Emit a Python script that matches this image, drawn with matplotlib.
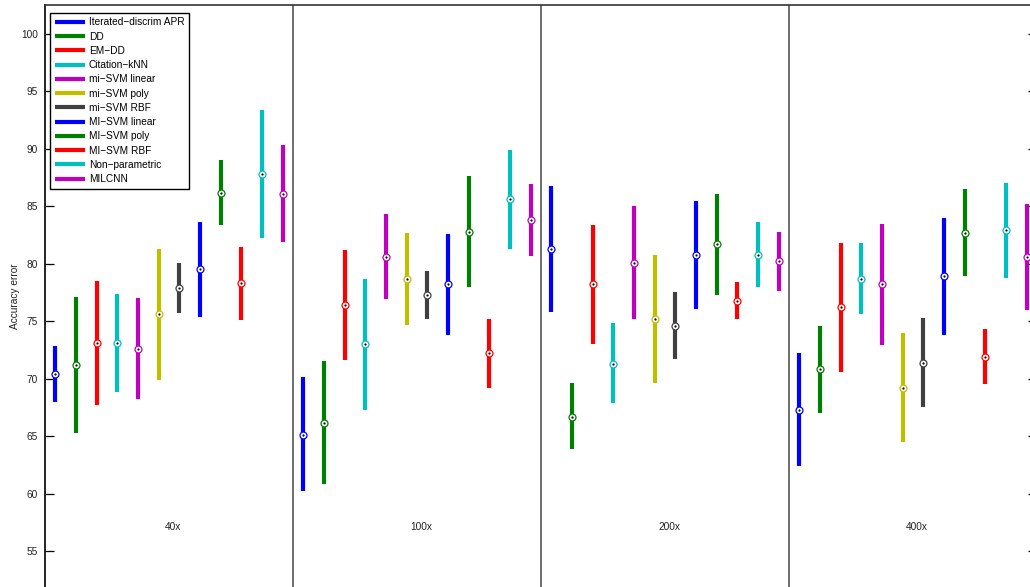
import matplotlib.pyplot as plt
import numpy as np

plt.rcParams['font.family'] = ['Liberation Sans', 'DejaVu Sans']

magnifications = ["40x", "100x", "200x", "400x"]
methods = [
    "Iterated\u2212discrim APR", "DD", "EM\u2212DD", "Citation\u2212kNN",
    "mi\u2212SVM linear", "mi\u2212SVM poly", "mi\u2212SVM RBF", "MI\u2212SVM linear",
    "MI\u2212SVM poly", "MI\u2212SVM RBF", "Non\u2212parametric", "MILCNN",
]
colors = [
    (0, 0, 1), (0, 0.5, 0), (1, 0, 0), (0, 0.75, 0.75),
    (0.75, 0, 0.75), (0.75, 0.75, 0), (0.25, 0.25, 0.25), (0, 0, 1),
    (0, 0.5, 0), (1, 0, 0), (0, 0.75, 0.75), (0.75, 0, 0.75),
]

# lower end, median and upper end for each method, per magnification
lo_40 = [68.0, 65.3, 67.7, 68.8, 68.2, 69.9, 75.7, 75.4, 83.4, 75.1, 82.2, 81.9]
md_40 = [70.4, 71.2, 73.1, 73.1, 72.6, 75.6, 77.9, 79.5, 86.2, 78.3, 87.8, 86.1]
hi_40 = [72.8, 77.1, 78.5, 77.4, 77.0, 81.3, 80.1, 83.6, 89.0, 81.5, 93.4, 90.3]

lo_100 = [60.2, 60.8, 71.6, 67.3, 76.9, 74.7, 75.2, 73.8, 78.0, 69.2, 81.3, 80.7]
md_100 = [65.1, 66.1, 76.4, 73.0, 80.6, 78.7, 77.3, 78.2, 82.8, 72.2, 85.6, 83.8]
hi_100 = [70.1, 71.5, 81.2, 78.7, 84.3, 82.7, 79.4, 82.6, 87.6, 75.2, 89.9, 86.9]

lo_200 = [75.8, 63.9, 73.0, 67.9, 75.2, 69.6, 71.7, 76.1, 77.3, 75.2, 78.0, 77.6]
md_200 = [81.3, 66.7, 78.2, 71.3, 80.1, 75.2, 74.6, 80.8, 81.7, 76.8, 80.8, 80.2]
hi_200 = [86.8, 69.6, 83.4, 74.8, 85.0, 80.8, 77.5, 85.5, 86.1, 78.4, 83.6, 82.8]

lo_400 = [62.4, 67.0, 70.6, 75.6, 72.9, 64.5, 67.5, 73.8, 78.9, 69.5, 78.8, 76.0]
md_400 = [67.3, 70.8, 76.2, 78.7, 78.2, 69.2, 71.4, 78.9, 82.7, 71.9, 82.9, 80.6]
hi_400 = [72.2, 74.6, 81.8, 81.8, 83.5, 74.0, 75.3, 84.0, 86.5, 74.3, 87.0, 85.2]

lows = [lo_40, lo_100, lo_200, lo_400]
meds = [md_40, md_100, md_200, md_400]
highs = [hi_40, hi_100, hi_200, hi_400]

n_m = len(methods)
n_g = len(magnifications)

fig = plt.figure(figsize=(10.3, 5.87), dpi=100)
# axes run past the right and bottom edges of the figure, like the cropped original
ax = fig.add_axes([0.04369, -0.0365, 0.9631, 1.028])

for i in range(n_m):
    xs = [g * n_m + i + 1 for g in range(n_g)]
    lo = [lows[g][i] for g in range(n_g)]
    hi = [highs[g][i] for g in range(n_g)]
    md = [meds[g][i] for g in range(n_g)]
    ax.vlines(xs, lo, hi, color=colors[i], lw=3.0, label=methods[i], zorder=2)
    ax.plot(xs, md, 'o', ms=5, mfc='white', mec=colors[i], mew=0.9, zorder=3)
    ax.plot(xs, md, 'o', ms=1.6, mfc='black', mec='black', mew=0, zorder=4)

for g in range(1, n_g):
    ax.axvline(g * n_m + 0.5, color='#555555', lw=1.2, zorder=1)

for g, name in enumerate(magnifications):
    ax.text(g * n_m + 6.7, 57.1, name, ha='center', va='center',
            fontsize=7.3, color='#222222')

ax.set_xlim(0.5, n_g * n_m + 0.5)
ax.set_ylim(50, 102.52)
ax.set_xticks([])
ax.set_yticks(np.arange(55, 101, 5))
ax.tick_params(axis='y', direction='in', length=6.5, width=0.9, labelsize=7.3,
               labelcolor='#222222', right=True, pad=5)
for side in ['left', 'top', 'right', 'bottom']:
    ax.spines[side].set_linewidth(1.2)
ax.spines['left'].set_color('black')
ax.spines['top'].set_color('#333333')

fig.text(15 / 1030, 1 - 296 / 587, "Accuracy error", rotation=90,
         ha='center', va='center', fontsize=7.3, color='#222222')

leg = ax.legend(loc='upper left', bbox_to_anchor=(0.0052, 0.987), fontsize=7.3,
                fancybox=False, edgecolor='black', framealpha=1,
                handlelength=3.0, handletextpad=0.35, labelspacing=0.42,
                borderpad=0.45, borderaxespad=0)
leg.get_frame().set_linewidth(1.0)

fig.savefig("out.png", dpi=100)
